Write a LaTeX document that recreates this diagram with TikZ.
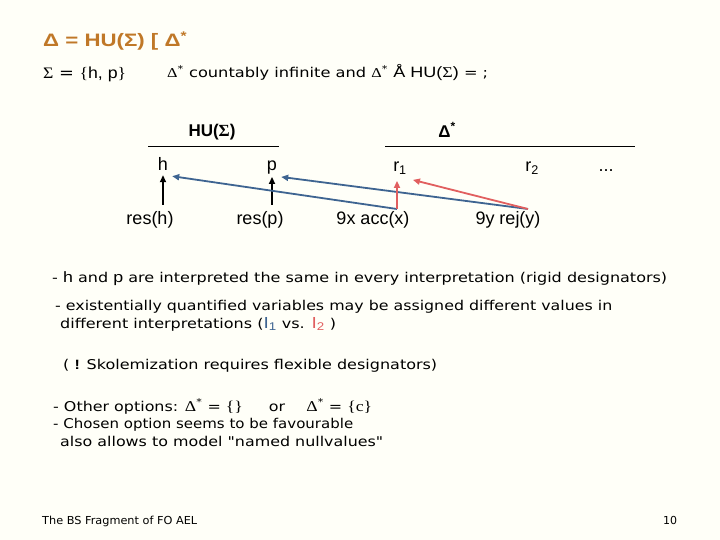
\documentclass[tikz,border=0pt]{standalone}
\usepackage{fontspec}
\usepackage{graphicx}
\setmainfont{DejaVu Sans}
\newfontfamily\arial{Liberation Sans}
\newfontfamily\tms{Liberation Serif}
\newfontfamily\verd{DejaVu Sans}
\usetikzlibrary{arrows.meta}
\definecolor{bgc}{RGB}{255,255,248}
\definecolor{titlec}{RGB}{192,120,40}
\definecolor{bluec}{RGB}{62,100,145}
\definecolor{redc}{RGB}{225,95,95}
\newcommand\fitw[2]{\resizebox{#1pt}{\height}{#2}}
\newcommand\st{\textsuperscript{*}}
\begin{document}
\begin{tikzpicture}[x=1pt,y=-1pt,
  txt/.style={inner sep=0pt, anchor=base west, font=\verd\fontsize{13.5}{16}\selectfont},
  foot/.style={inner sep=0pt, anchor=base west, font=\verd\fontsize{11}{13}\selectfont},
  lbl/.style={inner sep=2pt, anchor=base, font=\arial\fontsize{18}{20}\selectfont},
  head/.style={inner sep=0pt, font=\arial\bfseries\fontsize{17}{19}\selectfont},
  rulel/.style={draw=black, line width=0.9pt},
  blk/.style={draw=black, line width=1.8pt, -{Triangle[length=7pt,width=6pt]}},
  bluearr/.style={draw=bluec, line width=1.8pt, -{Triangle[length=7pt,width=6pt]}},
  redarr/.style={draw=redc, line width=1.8pt, -{Triangle[length=7pt,width=6pt]}}
]
\fill[bgc] (0,0) rectangle (720,540);
\useasboundingbox (0,0) rectangle (720,540);

% title
\node[inner sep=0pt, anchor=base west, text=titlec, font=\arial\bfseries\fontsize{18}{20}\selectfont] (title) at (43,47)
  {\fitw{144}{Δ = HU(Σ) [ Δ\textsuperscript{*}}};
\node[txt, font=\verd\fontsize{16}{18}\selectfont] (sig) at (43,79)
  {\fitw{83}{{\tms Σ} = {\tms\{}{\arial h, p}{\tms\}}}};
\node[txt] (inf) at (167,78)
  {\fitw{321}{{\tms Δ}\st{} countably infinite and {\tms Δ}\st{} {\arial\fontsize{15}{16}\selectfont Å HU(}{\tms\fontsize{15}{16}\selectfont Σ}{\arial\fontsize{15}{16}\selectfont )} = ;}};

% diagram headings
\node[head] (hu) at (212,132) {HU(\textnormal{\tms\bfseries Σ})};
\node[head] (ds) at (447,130) {Δ\textsuperscript{*}};
\draw[rulel] (148,146) -- (279,146);
\draw[rulel] (385,146) -- (635,146);

% diagram labels
\node[lbl] (h) at (163,171) {h};
\node[lbl] (p) at (272,171) {p};
\node[lbl] (r1) at (400,172) {r\textsubscript{1}};
\node[lbl] (r2) at (532,172) {r\textsubscript{2}};
\node[lbl] (dots) at (606,172) {...};
\node[lbl] (resh) at (150,225) {res(h)};
\node[lbl] (resp) at (260,225) {res(p)};
\node[lbl] (acc) at (373,225) {9x acc(x)};
\node[lbl] (rej) at (508,225) {9y rej(y)};

\coordinate (th) at (163,205);
\coordinate (tp) at (272,205);
\coordinate (tx) at (397,209);
\coordinate (ty) at (528,209);

\draw[blk] (th) -- ([yshift=-2pt]h.south);
\draw[blk] (tp) -- (p.south);
\draw[bluearr] (tx) -- ([xshift=2pt,yshift=-3pt]h.south east);
\draw[bluearr] (ty) -- ([xshift=2pt]p.south east);
\draw[redarr] (tx) -- ([yshift=-4pt]tx |- r1.south);
\draw[redarr] (ty) -- ([xshift=4pt,yshift=-3pt]r1.south east);

% body text
\node[txt] (l1) at (52,282)
  {\fitw{615}{- {\arial\fontsize{15}{16}\selectfont h} and {\arial\fontsize{15}{16}\selectfont p} are interpreted the same in every interpretation (rigid designators)}};
\node[txt] (l2) at (55,310)
  {\fitw{557}{- existentially quantified variables may be assigned different values in}};
\node[txt] (l3) at (60,328)
  {\fitw{276}{different interpretations ({\arial\fontsize{16}{17}\selectfont\color{bluec}I\textsubscript{1}} vs. {\arial\fontsize{16}{17}\selectfont\color{redc}I\textsubscript{2}} )}};
\node[txt] (l4) at (63,369)
  {\fitw{374}{( {\arial\bfseries !} Skolemization requires flexible designators)}};
\node[txt] (l5) at (53,411)
  {\fitw{319}{- Other options: {\tms\fontsize{15}{16}\selectfont Δ}\st{} = {\tms\fontsize{15}{16}\selectfont\{\}}\hspace{22pt}or\hspace{18pt}{\tms\fontsize{15}{16}\selectfont Δ}\st{} = {\tms\fontsize{15}{16}\selectfont\{c\}}}};
\node[txt] (l6) at (53,428)
  {\fitw{300}{- Chosen option seems to be favourable}};
\node[txt] (l7) at (60,446)
  {\fitw{323}{also allows to model "named nullvalues"}};

% footer
\node[foot] (ft) at (42,524) {\fitw{155}{The BS Fragment of FO AEL}};
\node[foot, anchor=base] (pg) at (670,524) {10};
\end{tikzpicture}
\end{document}
